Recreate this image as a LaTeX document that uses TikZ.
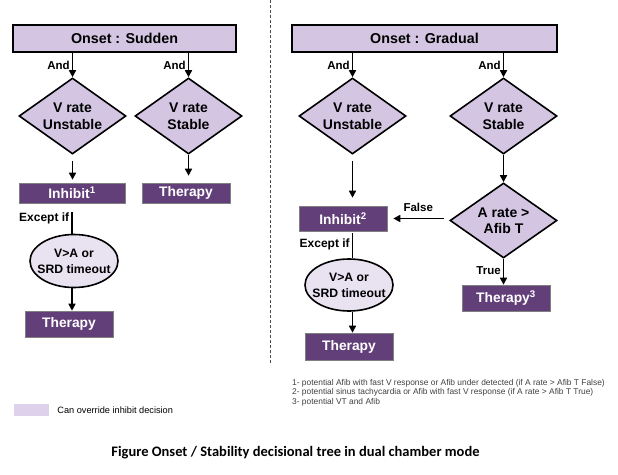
\documentclass[tikz,border=0pt]{standalone}
\usepackage{fontspec}
\setmainfont{Liberation Sans}
\newfontfamily\capfont{Carlito}
\usepackage{xcolor}
\usepackage{tikz}
\usetikzlibrary{shapes,shapes.geometric,arrows.meta,positioning,calc}

\definecolor{lavender}{HTML}{D4C6E2}
\definecolor{lavlight}{HTML}{E9E2F1}
\definecolor{plum}{HTML}{633F7A}
\definecolor{swatch}{HTML}{DDD1EC}

\begin{document}
\begin{tikzpicture}[x=1pt, y=-1pt,
      onset/.style={rectangle, draw=black, line width=1.8pt, fill=lavender,
                    minimum height=27pt, inner sep=0pt,
                    font=\bfseries\fontsize{14.3}{16}\selectfont},
      cond/.style={diamond, draw=black, line width=1.6pt, fill=lavender,
                   aspect=1.4, minimum width=107pt, minimum height=76pt,
                   inner sep=0pt, align=center,
                   font=\bfseries\fontsize{14}{16.5}\selectfont},
      act/.style={rectangle, draw=gray, line width=0.6pt, fill=plum, text=white,
                  minimum width=88pt, inner sep=0pt,
                  font=\bfseries\fontsize{13.8}{16}\selectfont},
      test/.style={ellipse, draw=black, line width=1.6pt, fill=lavlight,
                   minimum width=88pt, minimum height=53pt,
                   inner xsep=-6pt, inner ysep=0pt, align=center,
                   font=\bfseries\fontsize{12.2}{16}\selectfont},
      arr/.style={-{Triangle[width=7pt,length=7pt]}, line width=1.6pt},
      link/.style={line width=1.6pt},
      lbl/.style={font=\bfseries\fontsize{11.5}{13}\selectfont, inner sep=2pt},
    ]
    \useasboundingbox (0,0) rectangle (618,474);

    % Divider
    \coordinate (divTop) at (270,0);
    \coordinate (divBot) at (270,363);
    \draw[black!70, line width=0.7pt, dash pattern=on 3pt off 2pt] (divTop) -- (divBot);

    % Onset boxes
    \node[onset, minimum width=223pt] (onsetS) at (124.5,38.5) {Onset : Sudden};
    \node[onset, minimum width=265pt] (onsetG) at (424.5,38.5) {Onset : Gradual};

    % Sudden onset -- left
    \node[cond] (unstS) at (72.5,116) {V rate\\Unstable};
    \node[cond] (stabS) at (188.5,116) {V rate\\Stable};
    \node[act, minimum width=106pt, minimum height=20pt] (inhS) at (72,193) {Inhibit\textsuperscript{1}};
    \node[act, minimum height=20pt] (therS) at (186,193) {Therapy};
    \node[test] (exS) at (74,261) {V>A or\\SRD timeout};
    \node[act, minimum height=26pt] (therS2) at (69,324) {Therapy};

    % Gradual onset -- right
    \node[cond] (unstG) at (352.5,116) {V rate\\Unstable};
    \node[cond] (stabG) at (503.5,116) {V rate\\Stable};
    \node[act, minimum height=25pt] (inhG) at (343,218.5) {Inhibit\textsuperscript{2}};
    \node[cond, minimum height=75pt] (afib) at (503.5,220.5) {A rate >\\Afib T};
    \node[act, minimum height=26pt] (therG) at (506,298) {Therapy\textsuperscript{3}};
    \node[test, minimum height=52pt] (exG) at (349,285) {V>A or\\SRD timeout};
    \node[act, minimum height=27pt] (therG2) at (349,346.5) {Therapy};

    % Arrows: sudden
    \draw[arr] (onsetS.south -| unstS.north) -- node[lbl, left] {And} (unstS.north);
    \draw[arr] (onsetS.south -| stabS.north) -- node[lbl, left] {And} (stabS.north);
    \draw[arr, shorten <=6pt, shorten >=3pt] (unstS.south) -- (unstS.south |- inhS.north);
    \draw[arr, shorten >=7pt] (stabS.south) -- (stabS.south |- therS.north);
    \draw[link, shorten <=9pt] (inhS.south) --
      node[lbl, left, font=\bfseries\fontsize{12}{13}\selectfont] {Except if} (inhS.south |- exS.north);
    \draw[arr] (inhS.south |- exS.south) -- (inhS.south |- therS2.north);

    % Arrows: gradual
    \draw[arr] (onsetG.south -| unstG.north) -- node[lbl, left] {And} (unstG.north);
    \draw[arr] (onsetG.south -| stabG.north) -- node[lbl, left] {And} (stabG.north);
    \draw[arr, shorten <=6pt, shorten >=8pt] (unstG.south) -- (unstG.south |- inhG.north);
    \draw[arr] (stabG.south) -- (afib.north);
    \draw[arr, shorten <=5pt, shorten >=6pt] (afib.west |- inhG.east) --
      node[lbl, above=4pt] {False} (inhG.east);
    \draw[arr] (afib.south) -- node[lbl, left, pos=0.45] {True} (afib.south |- therG.north);
    \draw[link, shorten <=2pt] (unstG.south |- inhG.south) --
      node[lbl, left, font=\bfseries\fontsize{12}{13}\selectfont] {Except if} (unstG.south |- exG.north);
    \draw[arr] (unstG.south |- exG.south) -- (unstG.south |- therG2.north);

    % Footnotes
    \node[anchor=north west, align=left, inner sep=0pt, text=black!75,
          font=\fontsize{8.4}{9.4}\selectfont] (notes) at (292,379)
      {1- potential Afib with fast V response or Afib under detected (if A rate > Afib T False)\\
       2- potential sinus tachycardia or Afib with fast V response (if A rate > Afib T True)\\
       3- potential VT and Afib};

    % Legend
    \node[fill=swatch, minimum width=35pt, minimum height=12pt, inner sep=0pt] (legend) at (31.5,410) {};
    \node[right=8pt of legend, inner sep=0pt, font=\fontsize{9.2}{11}\selectfont] (legendTxt) {Can override inhibit decision};

    % Caption
    \node[font=\capfont\bfseries\fontsize{14.5}{16}\selectfont] (caption) at (295.5,453)
      {Figure Onset / Stability decisional tree in dual chamber mode};

\end{tikzpicture}
\end{document}
